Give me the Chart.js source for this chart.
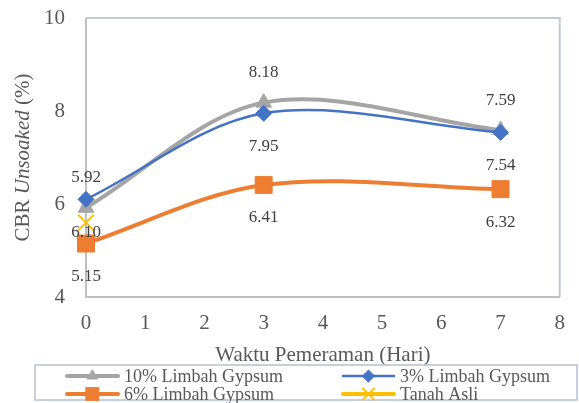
<!DOCTYPE html>
<html>
<head>
<meta charset="utf-8">
<script src="https://cdn.jsdelivr.net/npm/chart.js@4"></script>
<style>
  html, body { margin: 0; padding: 0; background: #fff; }
</style>
</head>
<body>
<canvas id="chart" width="579" height="403"></canvas>
<script>
// ---- data ----
const days = [0, 3, 7];
const limbah10 = [5.92, 8.18, 7.59];
const limbah3 = [6.10, 7.95, 7.54];
const limbah6 = [5.15, 6.41, 6.32];
const tanahAsliDays = [0];
const tanahAsli = [5.6];
const seriesNames = ['10% Limbah Gypsum', '3% Limbah Gypsum', '6% Limbah Gypsum', 'Tanah Asli'];

const SERIF = '"Liberation Serif", "Times New Roman", serif';
const toPoints = (xs, ys) => xs.map((x, i) => ({ x: x, y: ys[i] }));

const COLORS = {
    gray: '#a5a5a5',
    blue: '#4472c4',
    orange: '#ed7d31',
    yellow: '#ffc000'
};

// draw one marker (falls back if helpers not exposed)
function marker(ctx, style, r, x, y) {
    if (Chart.helpers && Chart.helpers.drawPoint) {
        Chart.helpers.drawPoint(ctx, { pointStyle: style, radius: r, rotation: 0, borderWidth: ctx.lineWidth }, x, y);
        return;
    }
    ctx.beginPath();
    ctx.arc(x, y, r, 0, Math.PI * 2);
    ctx.fill();
}

// plot area box
const plotBox = {
    id: 'plotBox',
    beforeDatasetsDraw(chart) {
        const { ctx, chartArea: a } = chart;
        ctx.save();
        ctx.lineWidth = 2;
        ctx.strokeStyle = '#c3cbd9';
        ctx.beginPath();
        ctx.moveTo(a.left, a.top);
        ctx.lineTo(a.right, a.top);
        ctx.lineTo(a.right, a.bottom);
        ctx.stroke();
        ctx.strokeStyle = '#bfbfbf';
        ctx.beginPath();
        ctx.moveTo(a.left, a.top);
        ctx.lineTo(a.left, a.bottom);
        ctx.lineTo(a.right, a.bottom);
        ctx.stroke();
        ctx.restore();
    }
};

// value labels above / below the points
const dataLabels = {
    id: 'dataLabels',
    afterDatasetsDraw(chart) {
        const ctx = chart.ctx;
        ctx.save();
        ctx.font = '17px ' + SERIF;
        ctx.fillStyle = '#404040';
        ctx.textAlign = 'center';
        ctx.textBaseline = 'middle';
        chart.data.datasets.forEach((ds, i) => {
            if (!ds.labelOffset) return;
            const meta = chart.getDatasetMeta(i);
            meta.data.forEach((pt, j) => {
                ctx.fillText(ds.data[j].y.toFixed(2), pt.x, pt.y + ds.labelOffset);
            });
        });
        ctx.restore();
    }
};

// y title with italic part
const yTitle = {
    id: 'yTitle',
    afterDraw(chart) {
        const ctx = chart.ctx;
        const a = chart.chartArea;
        const parts = [
            ['CBR ', ''],
            ['Unsoaked', 'italic '],
            [' (%)', '']
        ];
        ctx.save();
        ctx.translate(23, (a.top + a.bottom) / 2);
        ctx.rotate(-Math.PI / 2);
        ctx.fillStyle = '#595959';
        ctx.textBaseline = 'middle';
        ctx.textAlign = 'left';
        let total = 0;
        parts.forEach(p => {
            ctx.font = p[1] + '21px ' + SERIF;
            total += ctx.measureText(p[0]).width;
        });
        let x = -total / 2;
        parts.forEach(p => {
            ctx.font = p[1] + '21px ' + SERIF;
            ctx.fillText(p[0], x, 0);
            x += ctx.measureText(p[0]).width;
        });
        ctx.restore();
    }
};

// boxed two-column legend
const legendBox = {
    id: 'legendBox',
    afterDraw(chart) {
        const ctx = chart.ctx;
        ctx.save();
        ctx.lineWidth = 1.5;
        ctx.strokeStyle = '#b4c0d6';
        ctx.strokeRect(35, 365, 542, 35);
        const cols = [67, 343];
        const rows = [376, 394];
        ctx.font = '18px ' + SERIF;
        ctx.textBaseline = 'middle';
        ctx.textAlign = 'left';
        chart.data.datasets.forEach((ds, i) => {
            const x = cols[i % 2];
            const y = rows[Math.floor(i / 2)];
            ctx.strokeStyle = ds.borderColor;
            ctx.lineWidth = ds.borderWidth;
            ctx.lineCap = 'round';
            ctx.beginPath();
            ctx.moveTo(x, y);
            ctx.lineTo(x + 51, y);
            ctx.stroke();
            ctx.fillStyle = ds.pointBackgroundColor;
            ctx.strokeStyle = ds.pointBorderColor;
            ctx.lineWidth = ds.pointBorderWidth;
            marker(ctx, ds.pointStyle, ds.legendRadius, x + 25.5, y);
            ctx.fillStyle = '#595959';
            ctx.fillText(ds.label, x + 57, y + 1);
        });
        ctx.restore();
    }
};

const datasets = [
    {
        label: seriesNames[0],
        data: toPoints(days, limbah10),
        borderColor: COLORS.gray,
        borderWidth: 4,
        pointStyle: 'triangle',
        pointRadius: 9,
        pointBackgroundColor: COLORS.gray,
        pointBorderColor: COLORS.gray,
        pointBorderWidth: 1,
        legendRadius: 6,
        labelOffset: -30,
        order: 3
    },
    {
        label: seriesNames[1],
        data: toPoints(days, limbah3),
        borderColor: COLORS.blue,
        borderWidth: 2.5,
        pointStyle: 'rectRot',
        pointRadius: 8,
        pointBackgroundColor: COLORS.blue,
        pointBorderColor: COLORS.blue,
        pointBorderWidth: 1,
        legendRadius: 6,
        labelOffset: 33,
        order: 1
    },
    {
        label: seriesNames[2],
        data: toPoints(days, limbah6),
        borderColor: COLORS.orange,
        borderWidth: 4,
        pointStyle: 'rect',
        pointRadius: 12,
        pointBackgroundColor: COLORS.orange,
        pointBorderColor: COLORS.orange,
        pointBorderWidth: 1,
        legendRadius: 9,
        labelOffset: 33,
        order: 2
    },
    {
        label: seriesNames[3],
        data: toPoints(tanahAsliDays, tanahAsli),
        borderColor: COLORS.yellow,
        borderWidth: 4,
        pointStyle: 'crossRot',
        pointRadius: 11,
        pointBackgroundColor: COLORS.yellow,
        pointBorderColor: COLORS.yellow,
        pointBorderWidth: 2,
        legendRadius: 8,
        labelOffset: 0,
        order: 0
    }
];

new Chart(document.getElementById('chart'), {
    type: 'line',
    data: { datasets: datasets },
    options: {
        responsive: false,
        animation: false,
        layout: { padding: { left: 0, right: 17, top: 18, bottom: 30 } },
        elements: {
            line: { tension: 0.33, fill: false },
            point: { hoverRadius: 8 }
        },
        clip: false,
        plugins: {
            legend: { display: false },
            tooltip: { enabled: false }
        },
        scales: {
            x: {
                type: 'linear',
                min: 0,
                max: 8,
                ticks: {
                    stepSize: 1,
                    padding: 14,
                    color: '#595959',
                    font: { family: SERIF, size: 21 }
                },
                grid: { display: false, drawTicks: false },
                border: { display: false },
                title: {
                    display: true,
                    text: 'Waktu Pemeraman (Hari)',
                    color: '#595959',
                    font: { family: SERIF, size: 21 },
                    padding: { top: 0, bottom: 5 }
                },
                afterFit(scale) { scale.height = 76; }
            },
            y: {
                min: 4,
                max: 10,
                ticks: {
                    stepSize: 2,
                    padding: 4,
                    color: '#595959',
                    font: { family: SERIF, size: 21 }
                },
                // tick marks hidden (grid off) but their length spaces the labels
                grid: { display: false, drawTicks: true, tickLength: 17 },
                border: { display: false },
                afterFit(scale) { scale.width = 86; }
            }
        }
    },
    plugins: [plotBox, dataLabels, yTitle, legendBox]
});
</script>
</body>
</html>
